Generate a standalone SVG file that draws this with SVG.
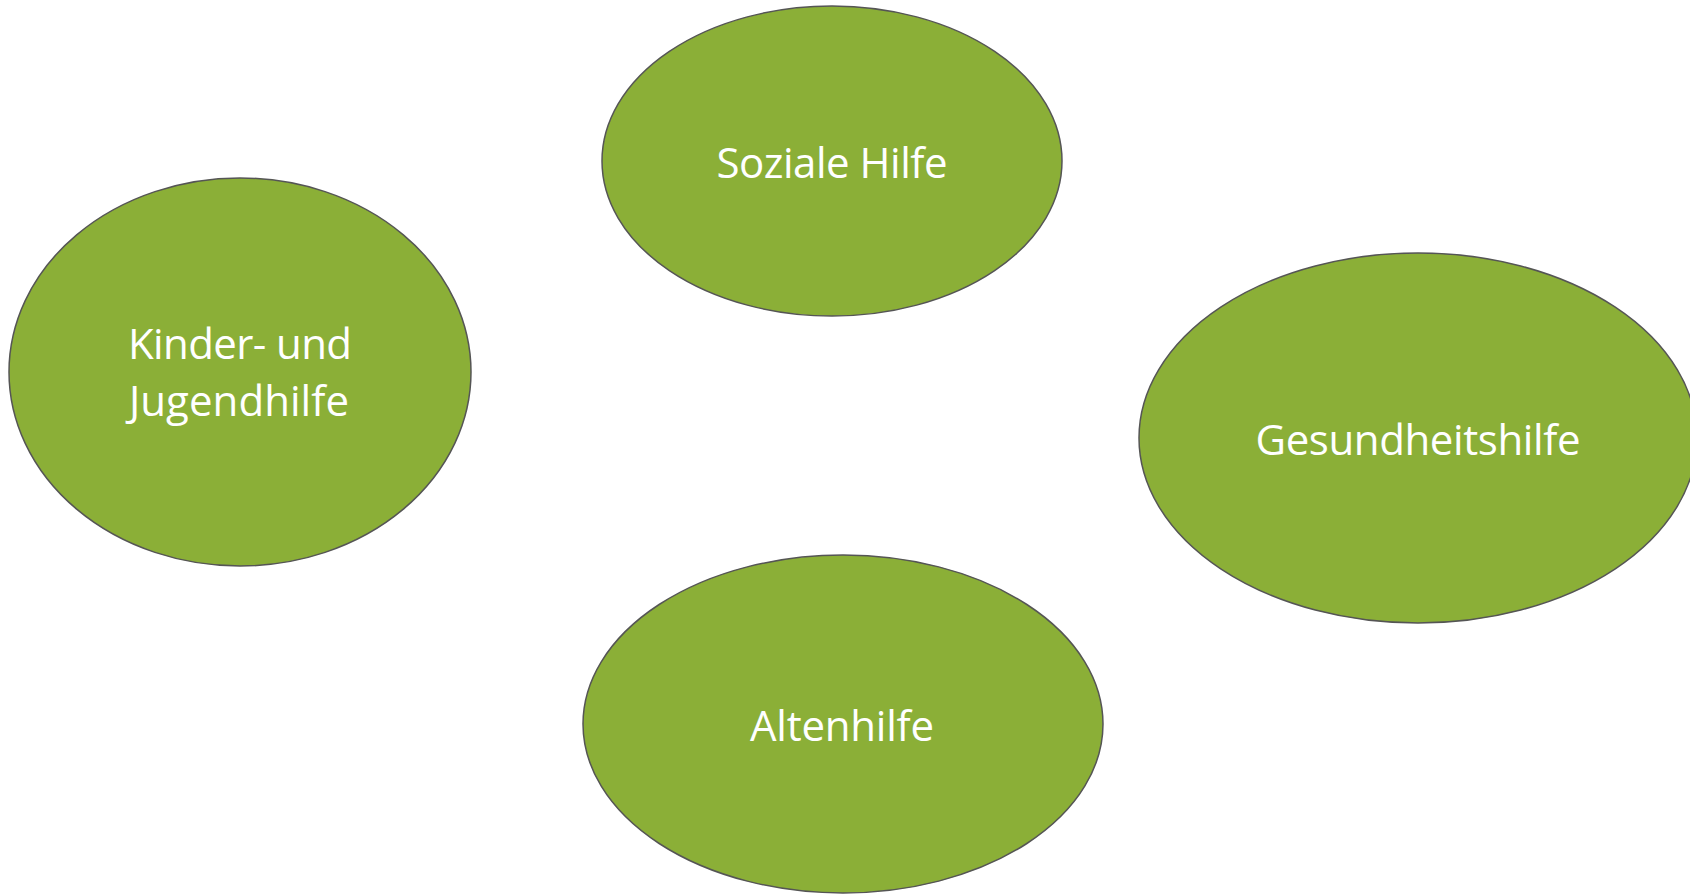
<svg xmlns="http://www.w3.org/2000/svg" width="1690" height="896" viewBox="0 0 1690 896">
<style>
.node{fill:#8BAF37;stroke:#555555;stroke-width:1.5}
.lbl{fill:#FFFFFF;font-family:"Open Sans","Noto Sans","Liberation Sans",sans-serif;font-size:42px;text-anchor:middle}
</style>
<rect width="1690" height="896" fill="#FFFFFF"/>
<g id="connectors"></g>
<g id="soziale-hilfe">
<ellipse class="node" cx="832" cy="161" rx="230" ry="155"/>
<text class="lbl" x="832" y="178" textLength="231">Soziale Hilfe</text>
</g>
<g id="kinder-jugendhilfe">
<ellipse class="node" cx="240" cy="372" rx="231" ry="194"/>
<text class="lbl" x="240" y="359" textLength="224">Kinder- und</text>
<text class="lbl" x="239" y="416" textLength="220">Jugendhilfe</text>
</g>
<g id="gesundheitshilfe">
<ellipse class="node" cx="1418" cy="438" rx="279" ry="185"/>
<text class="lbl" x="1418" y="455" textLength="325">Gesundheitshilfe</text>
</g>
<g id="altenhilfe">
<ellipse class="node" cx="843" cy="724" rx="260" ry="169"/>
<text class="lbl" x="842" y="741" textLength="184">Altenhilfe</text>
</g>
</svg>
